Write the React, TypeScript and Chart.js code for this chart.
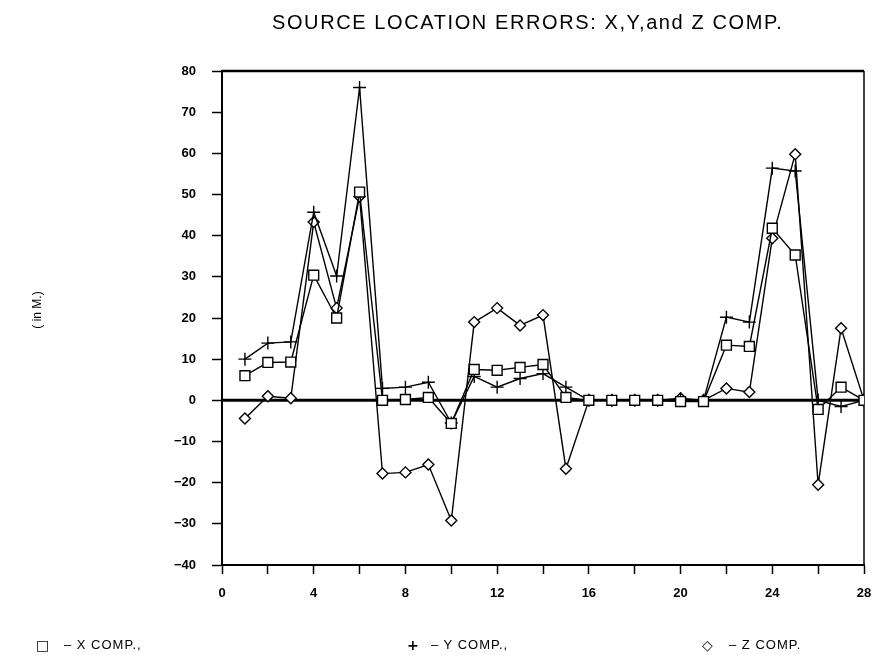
import React, { useEffect, useRef } from "react";
import { Chart, registerables } from "chart.js";

Chart.register(...registerables);

const xValues = [1, 2, 3, 4, 5, 6, 7, 8, 9, 10, 11, 12, 13, 14, 15, 16, 17, 18, 19, 20, 21, 22, 23, 24, 25, 26, 27, 28];
const xComp = [6, 9.2, 9.3, 30.4, 20, 50.6, 0, 0.2, 0.7, -5.6, 7.5, 7.3, 8, 8.7, 0.7, 0, 0, 0, 0, -0.3, -0.3, 13.4, 13.1, 41.8, 35.3, -2.2, 3.2, 0];
const yComp = [10, 13.9, 14.2, 45.7, 30.2, 76, 2.9, 3.2, 4.4, -5.5, 5.8, 3.2, 5.3, 6.5, 3.2, 0, 0, 0, 0, 0, 0, 20.2, 19, 56.4, 55.7, 0, -1.5, 0];
const zComp = [-4.4, 1, 0.5, 43.3, 22.4, 49.5, -17.8, -17.5, -15.6, -29.2, 19, 22.4, 18.2, 20.7, -16.6, 0, 0, 0, 0, 0.5, 0, 2.9, 2, 39.4, 59.8, -20.5, 17.5, 0];

const titleText = "SOURCE LOCATION ERRORS: X,Y,and Z COMP.";
const yAxisTitle = "( in M.)";
const legendLabels = ["– X COMP.,", "– Y COMP.,", "– Z COMP."];
const legendSymbols = ["□", "+", "◇"];

const toPoints = (vals: number[]) => vals.map((v, i) => ({ x: xValues[i], y: v }));

const frame = {
  id: "frame",
  beforeDatasetsDraw(chart: any) {
    const { ctx, chartArea, scales } = chart;
    const y0 = scales.y.getPixelForValue(0);
    ctx.save();
    ctx.strokeStyle = "#000";
    ctx.lineWidth = 3;
    ctx.beginPath();
    ctx.moveTo(chartArea.left, y0);
    ctx.lineTo(chartArea.right, y0);
    ctx.stroke();
    ctx.lineWidth = 2.5;
    ctx.beginPath();
    ctx.moveTo(chartArea.left, chartArea.top);
    ctx.lineTo(chartArea.right, chartArea.top);
    ctx.stroke();
    ctx.lineWidth = 1.5;
    ctx.beginPath();
    ctx.moveTo(chartArea.right, chartArea.top);
    ctx.lineTo(chartArea.right, chartArea.bottom);
    ctx.stroke();
    ctx.restore();
  },
};

export default function App() {
  const ref = useRef<HTMLCanvasElement>(null);

  useEffect(() => {
    if (!ref.current) return;
    const common = {
      borderColor: "#000",
      borderWidth: 1.4,
      pointBorderColor: "#000",
      pointBackgroundColor: "#fff",
      pointBorderWidth: 1.4,
      tension: 0,
      fill: false,
    };
    const chart = new Chart(ref.current, {
      type: "line",
      data: {
        datasets: [
          { ...common, label: "X COMP.", data: toPoints(xComp), pointStyle: "rect", pointRadius: 7 },
          { ...common, label: "Y COMP.", data: toPoints(yComp), pointStyle: "cross", pointRadius: 6.5 },
          { ...common, label: "Z COMP.", data: toPoints(zComp), pointStyle: "rectRot", pointRadius: 5.5 },
        ],
      },
      options: {
        animation: false,
        responsive: false,
        maintainAspectRatio: false,
        layout: { padding: { left: 162, right: 10, top: 71, bottom: 50 } },
        plugins: { legend: { display: false }, title: { display: false }, tooltip: { enabled: false } },
        scales: {
          x: {
            type: "linear",
            min: 0,
            max: 28,
            afterFit: (s: any) => { s.height = 40; s.paddingLeft = 0; s.paddingRight = 0; },
            border: { color: "#000", width: 2 },
            grid: { drawOnChartArea: false, tickLength: 9, tickColor: "#000", tickWidth: 1.5 },
            ticks: {
              stepSize: 2,
              autoSkip: false,
              maxRotation: 0,
              color: "#000",
              padding: 12,
              font: { family: "Liberation Sans", size: 13, weight: "bold" },
              callback: (v: any) => (Number(v) % 4 === 0 ? String(v) : ""),
            },
          },
          y: {
            type: "linear",
            min: -40,
            max: 80,
            afterFit: (s: any) => { s.width = 60; s.paddingTop = 0; s.paddingBottom = 0; },
            border: { color: "#000", width: 2 },
            grid: { drawOnChartArea: false, tickLength: 10, tickColor: "#000", tickWidth: 1.5 },
            ticks: {
              stepSize: 10,
              color: "#000",
              padding: 16,
              font: { family: "Liberation Sans", size: 13, weight: "bold" },
              callback: (v: any) => (Number(v) < 0 ? "−" + Math.abs(Number(v)) : String(v)),
            },
          },
        },
      },
      plugins: [frame],
    });
    return () => chart.destroy();
  }, []);

  const textFont = "'Liberation Sans', Arial, sans-serif";
  const legendX = [36, 407, 702];
  const legendTextX = [64, 431, 729];

  return (
    <div style={{ position: "fixed", left: 0, top: 0, width: 874, height: 655, background: "#fff", overflow: "hidden" }}>
      <canvas ref={ref} width={874} height={655} style={{ position: "absolute", left: 0, top: 0, width: 874, height: 655 }} />
      <div style={{ position: "absolute", left: 272, top: 11, fontFamily: textFont, fontSize: 20, color: "#000", whiteSpace: "nowrap", letterSpacing: 1.6 }}>
        {titleText}
      </div>
      <div
        style={{
          position: "absolute",
          left: 37,
          top: 310,
          transform: "translate(-50%, -50%) rotate(-90deg)",
          fontFamily: textFont,
          fontSize: 12,
          color: "#000",
          whiteSpace: "nowrap",
        }}
      >
        {yAxisTitle}
      </div>
      {legendLabels.map((lab, i) => (
        <React.Fragment key={lab}>
          <div style={{ position: "absolute", left: legendX[i], top: 637, fontFamily: "'DejaVu Sans', sans-serif", fontSize: 14, fontWeight: "bold", color: "#000" }}>
            {legendSymbols[i]}
          </div>
          <div style={{ position: "absolute", left: legendTextX[i], top: 637, fontFamily: textFont, fontSize: 13, color: "#000", whiteSpace: "nowrap", letterSpacing: 1 }}>
            {lab}
          </div>
        </React.Fragment>
      ))}
    </div>
  );
}
